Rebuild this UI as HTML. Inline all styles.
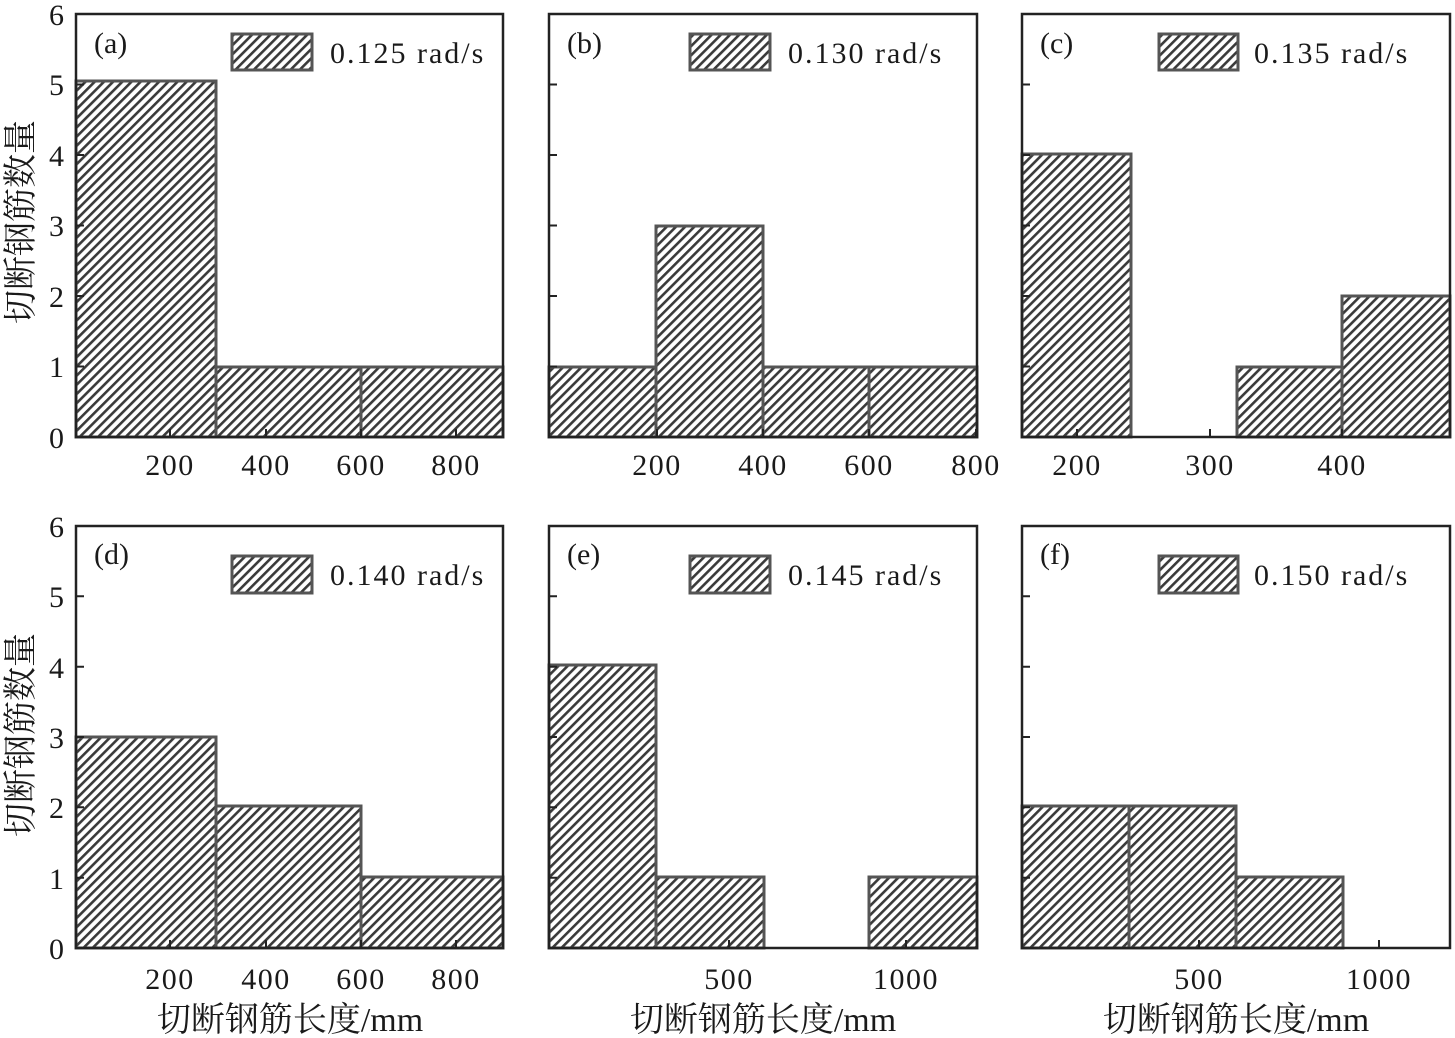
<!DOCTYPE html>
<html><head><meta charset="utf-8"><style>
html,body{margin:0;padding:0;background:#fff;}
svg{display:block;}
text{font-family:"Liberation Serif","Noto Serif CJK SC",serif;fill:#1a1a1a;}
</style></head><body>
<svg width="1455" height="1038" viewBox="0 0 1455 1038" xmlns="http://www.w3.org/2000/svg">
<defs>
<pattern id="h" patternUnits="userSpaceOnUse" width="6.5" height="6.5" patternTransform="rotate(-45)">
<rect width="6.5" height="6.5" fill="#fff"/>
<rect x="0" y="0" width="6.5" height="2.6" fill="#3a3a3a"/>
</pattern>
</defs>
<g stroke="#555" stroke-width="3" fill="url(#h)">
<rect x="76" y="81" width="140" height="356"/>
<rect x="216" y="367" width="145" height="70"/>
<rect x="361" y="367" width="142" height="70"/>
<rect x="549" y="367" width="107" height="70"/>
<rect x="656" y="226" width="107" height="211"/>
<rect x="763" y="367" width="106" height="70"/>
<rect x="869" y="367" width="108" height="70"/>
<rect x="1022" y="154" width="109" height="283"/>
<rect x="1237" y="367" width="105" height="70"/>
<rect x="1342" y="296" width="108" height="141"/>
<rect x="76" y="737" width="140" height="211"/>
<rect x="216" y="806" width="145" height="142"/>
<rect x="361" y="877" width="142" height="71"/>
<rect x="549" y="665" width="107" height="283"/>
<rect x="656" y="877" width="108" height="71"/>
<rect x="869" y="877" width="108" height="71"/>
<rect x="1022" y="806" width="107" height="142"/>
<rect x="1129" y="806" width="107" height="142"/>
<rect x="1236" y="877" width="107" height="71"/>
<rect x="232" y="34" width="80" height="36"/>
<rect x="690" y="34" width="80" height="36"/>
<rect x="1159" y="34" width="79" height="36"/>
<rect x="232" y="556" width="80" height="37"/>
<rect x="690" y="556" width="80" height="37"/>
<rect x="1159" y="556" width="79" height="37"/>
</g>
<g fill="none" stroke="#222" stroke-width="2.5">
<rect x="76" y="14" width="427" height="423"/>
<rect x="549" y="14" width="428" height="423"/>
<rect x="1022" y="14" width="428" height="423"/>
<rect x="76" y="526" width="427" height="422"/>
<rect x="549" y="526" width="428" height="422"/>
<rect x="1022" y="526" width="428" height="422"/>
</g>
<g stroke="#222" stroke-width="2">
<path d="M76 14h8M76 84.5h8M76 155h8M76 225.5h8M76 296h8M76 366.5h8
M549 14h8M549 84.5h8M549 155h8M549 225.5h8M549 296h8M549 366.5h8
M1022 14h8M1022 84.5h8M1022 155h8M1022 225.5h8M1022 296h8M1022 366.5h8
M76 526h8M76 596.3h8M76 666.7h8M76 737h8M76 807.3h8M76 877.7h8
M549 526h8M549 596.3h8M549 666.7h8M549 737h8M549 807.3h8M549 877.7h8
M1022 526h8M1022 596.3h8M1022 666.7h8M1022 737h8M1022 807.3h8M1022 877.7h8"/>
<path d="M170 437v-8M266 437v-8M361 437v-8M456 437v-8
M657 437v-8M763 437v-8M869 437v-8M976 437v-8
M1077 437v-8M1210 437v-8M1342 437v-8
M170 948v-8M266 948v-8M361 948v-8M456 948v-8
M729 948v-8M906 948v-8
M1199 948v-8M1379 948v-8"/>
</g>
<g font-size="30" text-anchor="end">
<text x="64" y="25">6</text><text x="64" y="95">5</text><text x="64" y="166">4</text><text x="64" y="236">3</text><text x="64" y="307">2</text><text x="64" y="377">1</text><text x="64" y="448">0</text>
<text x="64" y="537">6</text><text x="64" y="607">5</text><text x="64" y="678">4</text><text x="64" y="748">3</text><text x="64" y="818">2</text><text x="64" y="889">1</text><text x="64" y="959">0</text>
</g>
<g font-size="30" text-anchor="middle" letter-spacing="1.5">
<text x="170" y="475">200</text><text x="266" y="475">400</text><text x="361" y="475">600</text><text x="456" y="475">800</text>
<text x="657" y="475">200</text><text x="763" y="475">400</text><text x="869" y="475">600</text><text x="976" y="475">800</text>
<text x="1077" y="475">200</text><text x="1210" y="475">300</text><text x="1342" y="475">400</text>
<text x="170" y="989">200</text><text x="266" y="989">400</text><text x="361" y="989">600</text><text x="456" y="989">800</text>
<text x="729" y="989">500</text><text x="906" y="989">1000</text>
<text x="1199" y="989">500</text><text x="1379" y="989">1000</text>
</g>
<g font-size="34" text-anchor="middle">
<text x="290" y="1031">切断钢筋长度/mm</text>
<text x="763" y="1031">切断钢筋长度/mm</text>
<text x="1236" y="1031">切断钢筋长度/mm</text>
<text transform="translate(32,222) rotate(-90)">切断钢筋数量</text>
<text transform="translate(32,735) rotate(-90)">切断钢筋数量</text>
</g>
<g font-size="30">
<text x="94" y="53">(a)</text><text x="567" y="53">(b)</text><text x="1040" y="53">(c)</text>
<text x="94" y="564">(d)</text><text x="567" y="564">(e)</text><text x="1040" y="564">(f)</text>
</g>
<g font-size="30" letter-spacing="2">
<text x="330" y="63">0.125 rad/s</text>
<text x="788" y="63">0.130 rad/s</text>
<text x="1254" y="63">0.135 rad/s</text>
<text x="330" y="585">0.140 rad/s</text>
<text x="788" y="585">0.145 rad/s</text>
<text x="1254" y="585">0.150 rad/s</text>
</g>
</svg>
</body></html>
